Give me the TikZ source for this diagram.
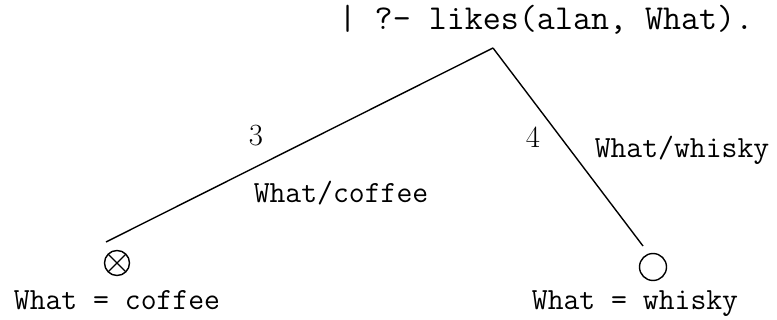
\documentclass[tikz,border=0pt]{standalone}
\begin{document}
\begin{tikzpicture}[x=0.5pt,y=-0.5pt,
  ttbig/.style={font=\fontsize{17.5}{20}\selectfont\ttfamily,inner sep=0pt,anchor=base},
  ttlab/.style={font=\fontsize{15.4}{18}\selectfont\ttfamily,inner sep=0pt,anchor=base},
  numlab/.style={font=\fontsize{15.4}{18}\selectfont,inner sep=0pt,anchor=base},
  edge/.style={line width=0.7pt},
  leaf/.style={circle,draw,line width=0.7pt,minimum size=13.5pt,inner sep=0pt},
  failleaf/.style={leaf,minimum size=12.5pt,path picture={
    \draw[line width=0.7pt] (path picture bounding box.north west)--(path picture bounding box.south east)
      (path picture bounding box.north east)--(path picture bounding box.south west);}}]
\useasboundingbox (0,0) rectangle (777,320);
\node[ttbig] (query) at (546,30) {| ?- likes(alan, What).};
\coordinate (apex) at (493,48);
\coordinate (lend) at (106,242);
\coordinate (rend) at (643,246);
\draw[edge] (apex) -- (lend);
\draw[edge] (apex) -- (rend);
\node[numlab] (n3) at (256,146) {3};
\node[numlab] (n4) at (533,148) {4};
\node[ttlab] (sub1) at (341,203) {What/coffee};
\node[ttlab] (sub2) at (682,158) {What/whisky};
\node[failleaf] (fail) at (117,263) {};
\node[leaf] (succ) at (653,267) {};
\node[ttlab] (ans1) at (117,310) {What = coffee};
\node[ttlab] (ans2) at (635,310) {What = whisky};
\end{tikzpicture}
\end{document}
